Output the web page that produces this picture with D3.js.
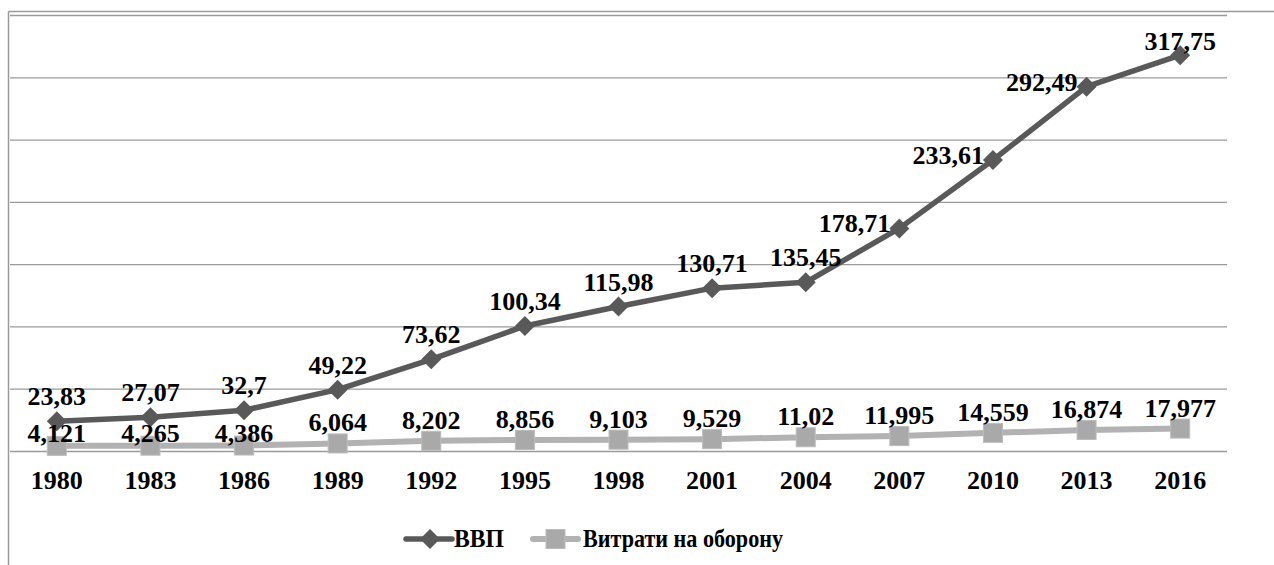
<!DOCTYPE html>
<html><head><meta charset="utf-8">
<script src="https://cdn.jsdelivr.net/npm/d3@7"></script>
<style>
html,body{margin:0;padding:0;background:#fff;}
svg{display:block;}
text{font-family:"Liberation Serif","Times New Roman",serif;font-weight:bold;fill:#000;}
</style></head>
<body>
<svg id="chart" width="1274" height="565"></svg>
<script>
const years = ["1980","1983","1986","1989","1992","1995","1998","2001","2004","2007","2010","2013","2016"];
const gdp = [23.83,27.07,32.7,49.22,73.62,100.34,115.98,130.71,135.45,178.71,233.61,292.49,317.75];
const gdpLabels = ["23,83","27,07","32,7","49,22","73,62","100,34","115,98","130,71","135,45","178,71","233,61","292,49","317,75"];
const defense = [4.121,4.265,4.386,6.064,8.202,8.856,9.103,9.529,11.02,11.995,14.559,16.874,17.977];
const defenseLabels = ["4,121","4,265","4,386","6,064","8,202","8,856","9,103","9,529","11,02","11,995","14,559","16,874","17,977"];
const yTicks = [0,50,100,150,200,250,300,350];
const seriesNames = ["ВВП","Витрати на оборону"];

const svg = d3.select("#chart");
const W = 1274, H = 565;
const plot = {left:10, right:1227, top:15, bottom:451};
const FS = 26;

const x = d3.scaleBand().domain(years).range([plot.left, plot.right]).paddingInner(0).paddingOuter(0);
const cx = d => x(d) + x.bandwidth()/2;
const y = d3.scaleLinear().domain([0,350]).range([plot.bottom, plot.top]);

// outer border
svg.append("line").attr("x1",8.5).attr("x2",W).attr("y1",11.5).attr("y2",11.5).attr("stroke","#9a9a9a").attr("stroke-width",1.5);
svg.append("line").attr("x1",8.5).attr("x2",8.5).attr("y1",11.5).attr("y2",H).attr("stroke","#9a9a9a").attr("stroke-width",1.5);

// gridlines
const yAxis = d3.axisLeft(y).tickValues(yTicks).tickSize(-(plot.right-plot.left)).tickFormat("");
const gy = svg.append("g").attr("transform",`translate(${plot.left},0)`).call(yAxis);
gy.select(".domain").remove();
gy.selectAll(".tick line").attr("stroke","#9a9a9a").attr("stroke-width",1.3);

// x axis labels
const xAxis = d3.axisBottom(x).tickSize(0).tickPadding(0);
const gx = svg.append("g").attr("transform",`translate(0,${plot.bottom})`).call(xAxis);
gx.select(".domain").remove();
gx.selectAll(".tick text").attr("y",38).attr("dy",0).attr("font-size",FS)
  .style("font-family",'"Liberation Serif","Times New Roman",serif').style("font-weight","bold").attr("fill","#000");

const gdpColor = "#595959", defColor = "#b2b2b2", defMarker = "#a9a9a9";

// defense line
const defLine = d3.line().x((d,i)=>cx(years[i])).y(d=>y(d));
svg.append("path").datum(defense).attr("d",defLine).attr("fill","none").attr("stroke",defColor).attr("stroke-width",6).attr("stroke-linejoin","round");
svg.append("g").selectAll("rect").data(defense).join("rect")
  .attr("x",(d,i)=>cx(years[i])-9.5).attr("y",d=>y(d)-9.5).attr("width",19).attr("height",19)
  .attr("fill",defMarker).attr("stroke","#bcbcbc").attr("stroke-width",1);

// gdp line
const gdpLine = d3.line().x((d,i)=>cx(years[i])).y(d=>y(d));
svg.append("path").datum(gdp).attr("d",gdpLine).attr("fill","none").attr("stroke",gdpColor).attr("stroke-width",5.5).attr("stroke-linejoin","round");
const diamond = (px,py,r) => `M${px},${py-r}L${px+r},${py}L${px},${py+r}L${px-r},${py}Z`;
svg.append("g").selectAll("path").data(gdp).join("path")
  .attr("d",(d,i)=>diamond(cx(years[i]),y(d),10)).attr("fill",gdpColor);

// gdp labels
const gl = svg.append("g").attr("font-size",FS);
gdp.forEach((v,i)=>{
  const px = cx(years[i]), py = y(v);
  const slope = i>0 ? (v-gdp[i-1]) : 0;
  if (slope > 35) {
    gl.append("text").attr("x",px-9).attr("y",py+4).attr("text-anchor","end").text(gdpLabels[i]);
  } else {
    gl.append("text").attr("x",px).attr("y",Math.max(py-16,50)).attr("text-anchor","middle").text(gdpLabels[i]);
  }
});

// defense labels
const dl = svg.append("g").attr("font-size",FS);
defense.forEach((v,i)=>{
  const px = cx(years[i]), py = y(v), gy2 = y(gdp[i]);
  let base = py - 12;
  if (base - 17 < gy2 + 22) base = py - 4;
  dl.append("text").attr("x",px).attr("y",base).attr("text-anchor","middle").text(defenseLabels[i]);
});

// legend
const lg = svg.append("g");
const ly = 539;
lg.append("line").attr("x1",406).attr("x2",452).attr("y1",ly).attr("y2",ly).attr("stroke",gdpColor).attr("stroke-width",5.5).attr("stroke-linecap","round");
lg.append("path").attr("d",diamond(430,ly,10)).attr("fill",gdpColor);
lg.append("text").attr("x",454).attr("y",ly+8).attr("font-size",FS).attr("textLength",50).attr("lengthAdjust","spacingAndGlyphs").text(seriesNames[0]);
lg.append("line").attr("x1",533).attr("x2",578).attr("y1",ly).attr("y2",ly).attr("stroke",defColor).attr("stroke-width",6).attr("stroke-linecap","round");
lg.append("rect").attr("x",546).attr("y",ly-9.5).attr("width",19).attr("height",19).attr("fill",defMarker).attr("stroke","#bcbcbc");
lg.append("text").attr("x",583).attr("y",ly+8).attr("font-size",FS).attr("textLength",200).attr("lengthAdjust","spacingAndGlyphs").text(seriesNames[1]);
</script>
</body></html>
